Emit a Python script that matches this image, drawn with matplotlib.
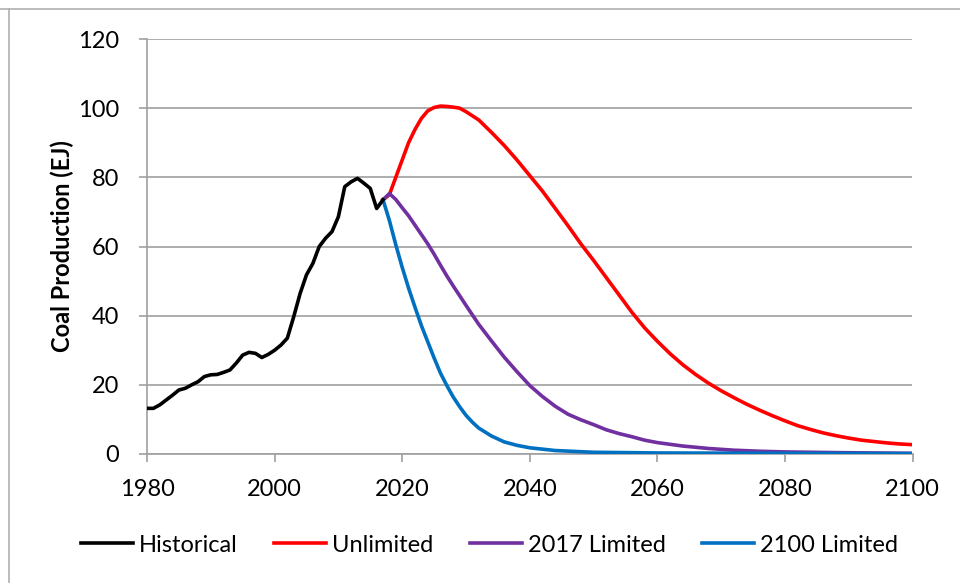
import matplotlib.pyplot as plt
from matplotlib.lines import Line2D

# Historical coal production (EJ), 1980-2017
hist_years = list(range(1980, 2018))
hist_vals = [13.2, 13.2, 14.2, 15.6, 17.0, 18.5, 19.0, 20.0, 20.9, 22.4,
             22.9, 23.0, 23.6, 24.3, 26.3, 28.6, 29.4, 29.1, 27.9, 28.8,
             30.0, 31.5, 33.5, 39.7, 46.4, 51.8, 55.1, 60.0, 62.4, 64.3,
             68.6, 77.3, 78.7, 79.7, 78.3, 76.8, 71.0, 73.5]

# Unlimited scenario
unl_years = [2017, 2018, 2019, 2020, 2021, 2022, 2023, 2024, 2025, 2026,
             2027, 2028, 2029, 2030, 2032, 2034, 2036, 2038, 2040, 2042,
             2044, 2046, 2048, 2050, 2052, 2054, 2056, 2058, 2060, 2062,
             2064, 2066, 2068, 2070, 2072, 2074, 2076, 2078, 2080, 2082,
             2084, 2086, 2088, 2090, 2092, 2094, 2096, 2098, 2100]
unl_vals = [73.5, 75.0, 80.0, 85.0, 90.0, 93.8, 97.0, 99.2, 100.2, 100.6,
            100.5, 100.3, 100.0, 99.0, 96.6, 93.0, 89.2, 85.0, 80.5, 76.0,
            71.0, 66.0, 60.8, 56.0, 51.0, 46.0, 41.0, 36.5, 32.6, 29.0,
            25.8, 23.0, 20.5, 18.3, 16.3, 14.4, 12.7, 11.1, 9.6, 8.2,
            7.1, 6.1, 5.3, 4.6, 4.0, 3.6, 3.2, 2.9, 2.7]

# 2017 Limited scenario
l17_years = [2017, 2018, 2019, 2020, 2021, 2022, 2023, 2024, 2025, 2026,
             2027, 2028, 2029, 2030, 2032, 2034, 2036, 2038, 2040, 2042,
             2044, 2046, 2048, 2050, 2052, 2054, 2056, 2058, 2060, 2064,
             2068, 2072, 2076, 2080, 2088, 2100]
l17_vals = [73.5, 75.3, 73.6, 71.2, 68.9, 66.2, 63.5, 60.8, 57.8, 54.6,
            51.5, 48.6, 45.8, 43.0, 37.5, 32.7, 28.0, 23.8, 19.8, 16.6,
            13.8, 11.5, 9.9, 8.5, 7.0, 5.9, 5.0, 4.0, 3.3, 2.3,
            1.6, 1.1, 0.8, 0.6, 0.4, 0.2]

# 2100 Limited scenario
l21_years = [2017, 2018, 2019, 2020, 2021, 2022, 2023, 2024, 2025, 2026,
             2027, 2028, 2029, 2030, 2031, 2032, 2034, 2036, 2038, 2040,
             2044, 2050, 2060, 2080, 2100]
l21_vals = [73.5, 67.5, 60.5, 54.0, 48.0, 42.5, 37.2, 32.5, 27.8, 23.4,
            19.8, 16.5, 13.7, 11.2, 9.2, 7.5, 5.2, 3.5, 2.5, 1.8,
            1.0, 0.5, 0.3, 0.2, 0.1]

plt.rcParams['font.family'] = ['Lato', 'DejaVu Sans']

fig = plt.figure(figsize=(9.6, 5.83), dpi=100)
ax = fig.add_axes([147 / 960, 1 - 454 / 583, (912.5 - 147) / 960, (454 - 39) / 583])

ax.plot(hist_years, hist_vals, color='black', lw=2.6, label='Historical', zorder=5)
ax.plot(unl_years, unl_vals, color='#ff0000', lw=2.6, label='Unlimited', zorder=3)
ax.plot(l17_years, l17_vals, color='#7030a0', lw=2.6, label='2017 Limited', zorder=3)
ax.plot(l21_years, l21_vals, color='#0070c0', lw=2.6, label='2100 Limited', zorder=4)

ax.set_xlim(1980, 2100)
ax.set_ylim(0, 120)
ax.set_xticks(range(1980, 2101, 20))
ax.set_yticks(range(0, 121, 20))
ax.grid(axis='y', color='#a0a0a0', lw=1.2)
ax.set_axisbelow(True)
for side in ('top', 'right'):
    ax.spines[side].set_visible(False)
for side in ('left', 'bottom'):
    ax.spines[side].set_color('#a0a0a0')
    ax.spines[side].set_linewidth(1.2)
ax.tick_params(axis='both', colors='#a0a0a0', labelcolor='black',
               labelsize=17, length=6, width=1.2)
ax.tick_params(axis='x', pad=12)
ax.tick_params(axis='y', pad=14)
ax.set_ylabel('Coal Production (EJ)', fontsize=17, fontweight='bold', labelpad=3)

handles = [Line2D([], [], color=l.get_color(), lw=2.6) for l in ax.get_lines()]
labels = [l.get_label() for l in ax.get_lines()]
fig.legend(handles, labels, loc='center', bbox_to_anchor=(0.51, 1 - 545 / 583),
           ncol=4, frameon=False, fontsize=17, handlelength=2.2,
           handletextpad=0.25, columnspacing=1.55)

# chart border
fig.add_artist(Line2D([0, 1], [1 - 9 / 583] * 2, color='#b0b0b0', lw=1.2))
fig.add_artist(Line2D([8.5 / 960] * 2, [0, 1 - 9 / 583], color='#b0b0b0', lw=1.2))

fig.savefig('out.png', dpi=100)
